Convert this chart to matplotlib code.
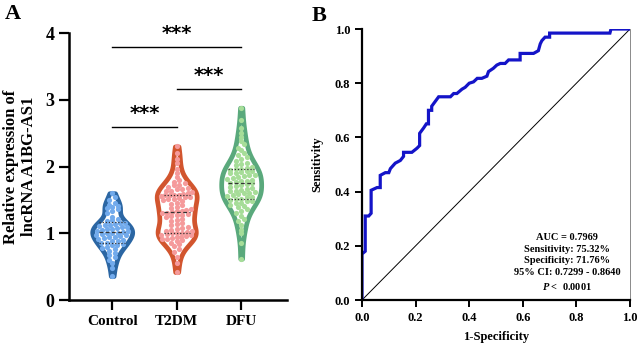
import numpy as np
import matplotlib.pyplot as plt
from matplotlib import mlab

plt.rcParams['font.family'] = ['Liberation Serif', 'DejaVu Serif']
plt.rcParams['font.weight'] = 'bold'
plt.rcParams['mathtext.fontset'] = 'custom'
plt.rcParams['mathtext.it'] = 'Liberation Serif:italic:bold'
plt.rcParams['mathtext.rm'] = 'Liberation Serif:bold'

# dados do painel A (expressao relativa)
groups = ['Control', 'T2DM', 'DFU']
control = [0.36, 0.48, 0.55, 0.60, 0.64, 0.68, 0.71, 0.74, 0.76, 0.78,
           0.80, 0.82, 0.83, 0.84, 0.85, 0.86, 0.88, 0.89, 0.90, 0.92,
           0.93, 0.94, 0.95, 0.96, 0.97, 0.98, 0.99, 1.00, 1.00, 1.01,
           1.02, 1.03, 1.04, 1.05, 1.06, 1.07, 1.08, 1.09, 1.10, 1.11,
           1.12, 1.13, 1.14, 1.15, 1.16, 1.18, 1.20, 1.22, 1.25, 1.30,
           1.34, 1.36, 1.38, 1.40, 1.41, 1.43, 1.46, 1.50, 1.55, 1.60]
t2dm = [0.42, 0.55, 0.65, 0.72, 0.77, 0.81, 0.84, 0.86, 0.88, 0.90, 0.91,
        0.92, 0.93, 0.94, 0.95, 0.96, 0.97, 0.98, 0.99, 1.00, 1.00,
        1.01, 1.02, 1.03, 1.04, 1.05, 1.06, 1.08, 1.10, 1.12, 1.14, 1.16,
        1.18, 1.20, 1.22, 1.24, 1.26, 1.27, 1.28, 1.29, 1.30, 1.31,
        1.32,
        1.33, 1.34, 1.35, 1.36, 1.38, 1.40, 1.42, 1.44, 1.46, 1.48, 1.50,
        1.51, 1.52, 1.53, 1.54, 1.55, 1.56, 1.57, 1.57, 1.58, 1.58,
        1.59, 1.60, 1.62, 1.63, 1.64, 1.66, 1.67, 1.68, 1.70, 1.72, 1.73,
        1.75, 1.77, 1.80, 1.84, 1.90, 1.97, 2.05, 2.12, 2.20, 2.30]
dfu = [0.62, 0.85, 1.00, 1.05, 1.12, 1.18, 1.22, 1.26, 1.30, 1.33,
       1.36, 1.39, 1.41, 1.43, 1.45, 1.46, 1.48, 1.49, 1.50,
       1.51, 1.52, 1.54, 1.55, 1.56, 1.58, 1.59, 1.60, 1.61, 1.62,
       1.63, 1.64, 1.65, 1.66, 1.68, 1.69, 1.71, 1.72, 1.74,
       1.75,
       1.76, 1.77, 1.78, 1.79, 1.80, 1.82, 1.83, 1.84, 1.86, 1.87,
       1.88, 1.90, 1.91, 1.92, 1.93, 1.94, 1.95, 1.96, 1.97,
       1.98, 2.00, 2.02, 2.04, 2.06, 2.08, 2.11, 2.14, 2.17, 2.20,
       2.24, 2.28, 2.33, 2.38, 2.44, 2.50, 2.58, 2.70, 2.88]

edge_colors = ['#2B66A3', '#D2552E', '#5AA97C']
dot_colors = ['#71AAEC', '#F59A9B', '#A6DD98']

# comparacoes (grupo1, grupo2, altura da linha)
comparisons = [(1, 2, 2.585), (2, 3, 3.165), (1, 3, 3.79)]

# dados do painel B (curva ROC)
fpr = [0.0, 0.0, 0.012, 0.012, 0.025, 0.034, 0.034, 0.056, 0.068, 0.068,
       0.087, 0.10, 0.106, 0.124, 0.143, 0.155, 0.155, 0.186, 0.205, 0.215,
       0.215, 0.23, 0.24, 0.248, 0.248, 0.26, 0.26, 0.286, 0.33, 0.342,
       0.354, 0.373, 0.385, 0.40, 0.416, 0.43, 0.447, 0.466, 0.472, 0.49,
       0.503, 0.516, 0.534, 0.547, 0.59, 0.59, 0.64, 0.658, 0.665, 0.671,
       0.683, 0.70, 0.70, 0.925, 0.929, 1.0]
tpr = [0.0, 0.17, 0.18, 0.31, 0.31, 0.32, 0.405, 0.415, 0.415, 0.46,
       0.47, 0.47, 0.485, 0.505, 0.515, 0.53, 0.545, 0.545, 0.56, 0.57,
       0.615, 0.635, 0.65, 0.65, 0.70, 0.70, 0.715, 0.75, 0.75, 0.762,
       0.762, 0.778, 0.785, 0.80, 0.805, 0.818, 0.818, 0.826, 0.843, 0.855,
       0.867, 0.873, 0.873, 0.886, 0.886, 0.91, 0.91, 0.92, 0.945, 0.957,
       0.97, 0.97, 0.985, 0.985, 1.0, 1.0]
stats_text = ('AUC = 0.7969\nSensitivity: 75.32%\nSpecificity: 71.76%\n'
              '95% CI: 0.7299 - 0.8640\n$P$ <  0.0001')

VW = 0.62   # largura do violino
BW = 0.33   # banda do kde


def swarm(values, center, step=0.065, dx=0.085):
    # espalha os pontos na largura local do violino
    values = np.array(values)
    kde = mlab.GaussianKDE(values, BW)
    grid = np.linspace(values.min(), values.max(), 200)
    dmax = kde.evaluate(grid).max()
    bins = np.floor(values / step)
    xs = np.zeros(len(values))
    for b in np.unique(bins):
        idx = np.where(bins == b)[0]
        n = len(idx)
        if n == 1:
            xs[idx] = center
            continue
        hw = VW / 2 * kde.evaluate(values[idx].mean())[0] / dmax * 0.8
        sp = min(dx, 2 * hw / (n - 1))
        xs[idx] = center + (np.arange(n) - (n - 1) / 2) * sp
    return xs


fig = plt.figure(figsize=(6.43, 3.46), dpi=100)

# ---------- painel A ----------
ax = fig.add_axes([0.1073, 0.1329, 0.339, 0.7717])
data = [control, t2dm, dfu]
pos = [1, 2, 3]
parts = ax.violinplot(data, positions=pos, widths=VW,
                      showextrema=False, bw_method=BW)
for body, ec in zip(parts['bodies'], edge_colors):
    body.set_facecolor('white')
    body.set_edgecolor(ec)
    body.set_linewidth(3.4)
    body.set_alpha(1)
    body.set_zorder(1)

for vals, p, dc in zip(data, pos, dot_colors):
    ax.scatter(swarm(vals, p), vals, s=14, color=dc, linewidths=0, zorder=3)
    q1, med, q3 = np.percentile(vals, [25, 50, 75])
    half = 0.2
    ax.plot([p - half, p + half], [med, med], color='#333333', lw=0.9,
            ls=(0, (3, 2)), zorder=4)
    for q in (q1, q3):
        ax.plot([p - half, p + half], [q, q], color='#333333', lw=0.9,
                ls=(0, (1, 1.5)), zorder=4)

for g1, g2, h in comparisons:
    ax.plot([g1, g2], [h, h], color='black', lw=1, clip_on=False)
    ax.text((g1 + g2) / 2, h + 0.06, '***', ha='center', va='bottom',
            fontsize=14, fontweight='bold', family='DejaVu Sans', clip_on=False)

ax.set_xlim(0.33, 3.71)
ax.set_ylim(0, 4)
ax.set_yticks([0, 1, 2, 3, 4])
ax.set_xticks(pos)
ax.set_xticklabels(groups)
ax.set_ylabel('Relative expression of\nlncRNA A1BG-AS1', fontsize=12,
              fontweight='bold', labelpad=6)
ax.tick_params(axis='y', labelsize=13, width=1.6, length=7)
ax.tick_params(axis='x', labelsize=11, width=1.6, length=7)
for s in ['top', 'right']:
    ax.spines[s].set_visible(False)
for s in ['left', 'bottom']:
    ax.spines[s].set_linewidth(1.8)

fig.text(0.008, 0.96, 'A', fontsize=16, fontweight='bold', va='center')

# ---------- painel B ----------
bx = fig.add_axes([0.563, 0.1329, 0.4168, 0.7832])
bx.plot([0, 1], [0, 1], color='black', lw=0.7)
bx.plot(fpr, tpr, color='#1414C8', lw=2.3, solid_joinstyle='miter')
bx.set_xlim(0, 1)
bx.set_ylim(0, 1)
ticks = [0, 0.2, 0.4, 0.6, 0.8, 1.0]
bx.set_xticks(ticks)
bx.set_yticks(ticks)
bx.set_xticklabels(['%.1f' % t for t in ticks])
bx.set_yticklabels(['%.1f' % t for t in ticks])
bx.tick_params(labelsize=9, width=1.4, length=5)
bx.set_xlabel('1-Specificity', fontsize=9, fontweight='bold', labelpad=5)
bx.set_ylabel('Sensitivity', fontsize=9, fontweight='bold', labelpad=8)
bx.spines['top'].set_visible(False)
bx.spines['right'].set_linewidth(0.6)
bx.spines['right'].set_color('#777777')
for s in ['left', 'bottom']:
    bx.spines[s].set_linewidth(1.6)
bx.text(0.765, 0.03, stats_text, ha='center', va='bottom', fontsize=7.5,
        fontweight='bold', linespacing=1.4)

fig.text(0.484, 0.955, 'B', fontsize=16, fontweight='bold', va='center')

plt.savefig('out.png', dpi=100)
